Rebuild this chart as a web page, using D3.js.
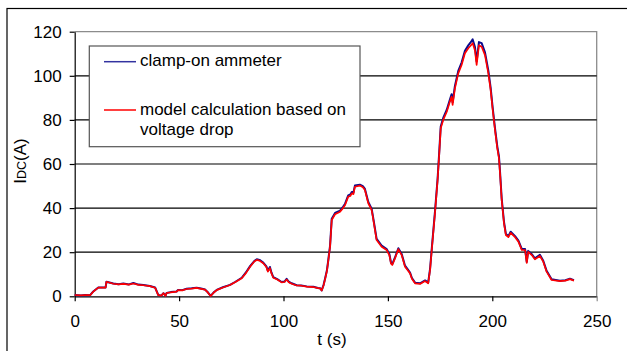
<!DOCTYPE html>
<html>
<head>
<meta charset="utf-8">
<script src="https://cdn.jsdelivr.net/npm/d3@7"></script>
<style>
  body { margin: 0; background: #fff; }
  svg { display: block; font-family: "Liberation Sans", Arial, sans-serif; }
</style>
</head>
<body>
<div id="wrapper"></div>
<script>
// DATA
const times = [0, 3, 5, 7.4, 8.9, 11.3, 14.8, 15.2, 18.5, 21, 23.3, 26, 28.1, 30.5, 32.9, 36, 38.5, 40, 41.5, 42.5,
  43.5, 44, 46, 48.8, 49.5, 51.5, 53.6, 56, 58.4, 60.5, 62.4, 63.5, 65.1, 66.5, 68, 71, 74.4, 77, 80, 82,
  84, 86, 87.2, 88.5, 90.3, 91.8, 92.5, 93.5, 94.2, 95.1, 97, 99.1, 100.5, 101.5, 102.5, 103.9, 106.3, 108.5, 111.1, 114.3,
  116.5, 117.5, 118.3, 119.2, 119.9, 120.8, 121.5, 122.3, 123.1, 124.7, 127.1, 128.5, 129.5, 131, 132, 132.7, 133.5, 134.2, 136.6, 138,
  139, 140.6, 142.2, 142.8, 143.3, 144.6, 147, 149.4, 150.7, 151.5, 152.1, 153.4, 155, 156.6, 158.2, 159.5, 160.6, 161.5, 163, 165.4,
  167.8, 169.3, 170.2, 171, 172.6, 173.8, 174.6, 175.3, 176.5, 178.2, 179.7, 180.5, 181, 182.1, 183.7, 185.3, 186.9, 188.5, 189.5, 190.6,
  191.7, 192.5, 193.6, 194.9, 196.5, 198.1, 199.2, 200.2, 201.3, 202.4, 203.2, 203.7, 204.5, 205.6, 206.5, 207.7, 208.8, 210.9, 212.5, 214.1,
  215.7, 216.5, 217.2, 218.9, 220.4, 222.8, 224.4, 226, 228.4, 232.4, 235, 237.2, 239.1]

const modelValues = [0.6, 0.4, 0.6, 0.5, 2.1, 3.9, 3.9, 6.6, 5.7, 5.4, 5.6, 5.3, 5.8, 5.2, 5.0, 4.6, 3.9, 0.5, 0.3, 1.4,
  0.2, 1.5, 1.8, 2.1, 2.8, 2.7, 3.3, 3.5, 3.8, 3.4, 3.0, 2.0, 0.1, 1.6, 2.8, 4.0, 5.1, 6.5, 8.2, 10.5,
  13.4, 15.8, 16.5, 16.2, 15.0, 13.3, 11.2, 12.8, 10.5, 8.4, 7.6, 6.3, 6.5, 7.6, 6.4, 5.7, 4.9, 4.8, 4.4, 4.2,
  3.7, 3.6, 2.6, 5.0, 7.7, 11.5, 16.5, 22.5, 34.6, 37.2, 38.4, 40.0, 41.4, 45.2, 45.5, 46.7, 46.3, 49.7, 50.2, 49.5,
  48.2, 42.2, 39.2, 36, 33.1, 25.5, 22.5, 21, 18.7, 14.8, 14.2, 17.2, 21.4, 18.7, 13.4, 11.8, 10.4, 8.0, 5.9, 5.6,
  6.9, 5.9, 12, 21, 38.4, 52.7, 64.9, 76.2, 80, 83.7, 88.3, 90.5, 86.8, 94.3, 101.1, 104.9, 110.2, 112.5, 113.5, 114.8,
  111.5, 104.9, 113.8, 113.2, 109.4, 101.1, 93.6, 84.5, 75.4, 67.1, 62.6, 55.8, 43.7, 33.1, 27.8, 26.8, 28.8, 26.8, 24.8, 21,
  21, 15.2, 20.2, 18.7, 16.8, 18.3, 15.7, 11.2, 7.4, 6.9, 7.1, 7.8, 7.1]

const ammeterValues = [0.6, 0.4, 0.6, 0.5, 2.2, 4.0, 4.0, 6.6, 5.8, 5.5, 5.8, 5.4, 6.0, 5.3, 5.1, 4.7, 4.0, 0.6, 0.3, 1.4,
  0.3, 1.5, 1.9, 2.2, 2.9, 2.8, 3.4, 3.6, 3.9, 3.5, 3.1, 2.1, 0.2, 1.7, 2.9, 4.1, 5.2, 6.6, 8.4, 10.8,
  13.7, 16.0, 16.8, 16.5, 15.3, 13.6, 11.6, 13.3, 10.8, 8.7, 7.8, 6.5, 6.7, 7.9, 6.6, 5.9, 5.0, 4.9, 4.5, 4.3,
  3.8, 3.7, 2.7, 5.2, 8.0, 11.8, 16.8, 23.0, 35.2, 37.8, 38.9, 40.6, 42.0, 45.8, 46.2, 47.3, 47.0, 50.2, 50.6, 50.0,
  48.7, 42.8, 39.7, 36.5, 33.6, 26.0, 23.0, 21.4, 19.2, 15.2, 14.6, 17.6, 21.8, 19.2, 13.9, 12.2, 10.8, 8.3, 6.2, 5.9,
  7.2, 6.2, 12.5, 21.5, 39.0, 53.3, 65.6, 77.0, 80.9, 84.6, 89.2, 91.6, 88.0, 95.4, 102.2, 106.0, 111.4, 113.8, 115.0, 116.5,
  113.0, 106.5, 115.3, 114.8, 110.6, 102.3, 94.6, 85.4, 76.2, 67.9, 63.4, 56.5, 44.3, 33.7, 28.3, 27.3, 29.3, 27.3, 25.3, 21.5,
  21.4, 15.6, 20.6, 19.1, 17.2, 18.8, 16.1, 11.6, 7.7, 7.1, 7.3, 8.0, 7.3]

const xTicks = [0, 50, 100, 150, 200, 250]
const yTicks = [0, 20, 40, 60, 80, 100, 120]
const gridValues = [20, 40, 60, 80, 100]
const seriesNames = ["clamp-on ammeter", "model calculation based on", "voltage drop"]

// DIMENSIONS
const dimensions = {
  width: 627,
  height: 351,
  left: 74.7,
  right: 596.7,
  top: 31.7,
  bottom: 296.3
}

const svg = d3.select("#wrapper").append("svg")
  .attr("width", dimensions.width)
  .attr("height", dimensions.height)

// outer chart frame (runs off the page on right and bottom)
svg.append("rect")
  .attr("x", 7).attr("y", 8.5)
  .attr("width", 700).attr("height", 400)
  .attr("fill", "none").attr("stroke", "#000").attr("stroke-width", 1.2)

// SCALES
const xScale = d3.scaleLinear().domain([0, 250]).range([dimensions.left, dimensions.right])
const yScale = d3.scaleLinear().domain([0, 120]).range([dimensions.bottom, dimensions.top])

// plot area border (top + right in grey)
svg.append("path")
  .attr("d", `M${dimensions.left},${yScale(120)}H${dimensions.right}V${dimensions.bottom}`)
  .attr("fill", "none").attr("stroke", "#8c8c8c").attr("stroke-width", 1.3)

// GRIDLINES
svg.append("g").selectAll("line").data(gridValues).join("line")
  .attr("x1", dimensions.left).attr("x2", dimensions.right)
  .attr("y1", d => yScale(d)).attr("y2", d => yScale(d))
  .attr("stroke", "#000").attr("stroke-width", 1.2)

// AXES
const xAxis = svg.append("g")
  .attr("transform", `translate(0,${dimensions.bottom})`)
  .call(d3.axisBottom(xScale).tickValues(xTicks).tickSize(5).tickSizeOuter(0).tickPadding(14))
const yAxis = svg.append("g")
  .attr("transform", `translate(${dimensions.left},0)`)
  .call(d3.axisLeft(yScale).tickValues(yTicks).tickSize(5).tickSizeOuter(0).tickPadding(8))

svg.selectAll(".tick text").attr("font-size", 17).attr("fill", "#000")
  .style("font-family", '"Liberation Sans", Arial, sans-serif')
svg.selectAll(".domain, .tick line").attr("stroke", "#000").attr("stroke-width", 1.2)
xAxis.select(".tick:last-of-type line").attr("stroke", "#8c8c8c")

// LINES
const lineGen = values => d3.line()
  .x((d, i) => xScale(times[i]))
  .y(d => yScale(d))(values)

svg.append("path").attr("d", lineGen(ammeterValues))
  .attr("fill", "none").attr("stroke", "#0a0a8c").attr("stroke-width", 2)
  .attr("stroke-linejoin", "round")
svg.append("path").attr("d", lineGen(modelValues))
  .attr("fill", "none").attr("stroke", "#ff0000").attr("stroke-width", 1.7)
  .attr("stroke-linejoin", "round")

// LABELS
svg.append("text")
  .attr("x", 332).attr("y", 345)
  .attr("text-anchor", "middle").attr("font-size", 17)
  .text("t (s)")

const yLabel = svg.append("text")
  .attr("transform", "translate(26,161) rotate(-90)")
  .attr("text-anchor", "middle").attr("font-size", 17)
yLabel.append("tspan").text("I")
yLabel.append("tspan").attr("font-size", 12.5).text("DC")
yLabel.append("tspan").text("(A)")

// LEGEND
const legend = svg.append("g")
legend.append("rect")
  .attr("x", 89.3).attr("y", 46)
  .attr("width", 270.7).attr("height", 100.7)
  .attr("fill", "#fff").attr("stroke", "#555").attr("stroke-width", 1.2)

legend.append("line")
  .attr("x1", 104).attr("x2", 136).attr("y1", 61.7).attr("y2", 61.7)
  .attr("stroke", "#3333a0").attr("stroke-width", 1.5)
legend.append("line")
  .attr("x1", 104).attr("x2", 136).attr("y1", 110).attr("y2", 110)
  .attr("stroke", "#ff0000").attr("stroke-width", 1.5)

legend.selectAll("text").data(seriesNames).join("text")
  .attr("x", 140)
  .attr("y", (d, i) => [66, 115, 135][i])
  .attr("font-size", 17)
  .text(d => d)
</script>
</body>
</html>
